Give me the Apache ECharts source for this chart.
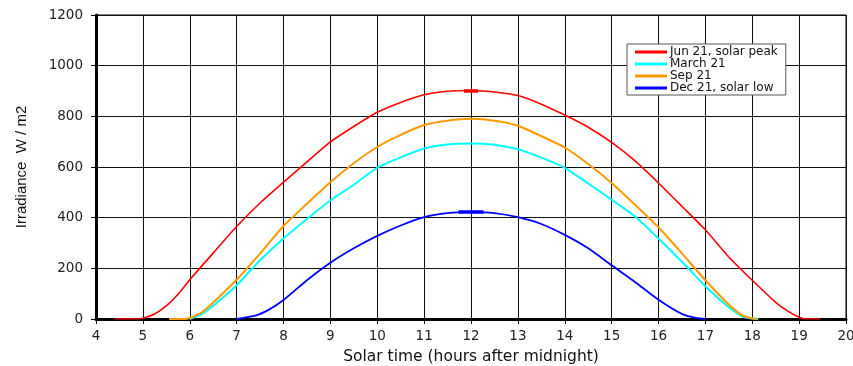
<!DOCTYPE html>
<html>
<head>
<meta charset="utf-8">
<style>
  html, body { margin: 0; padding: 0; background: #fff; }
  #chart { width: 853px; height: 366px; }
</style>
<script src="https://cdn.jsdelivr.net/npm/echarts@6/dist/echarts.min.js"></script>
</head>
<body>
<div id="chart"></div>
<script>
// Clear-sky irradiance over the day for four dates (hours after midnight, W/m2)
const seriesNames = ['Jun 21, solar peak', 'March 21', 'Sep 21', 'Dec 21, solar low'];

const junHours = [4.4, 4.9, 5, 5.25, 5.5, 5.75, 6, 6.5, 7, 7.5, 8, 8.5, 9, 9.5, 10, 10.5, 11, 11.5, 12, 12.5, 13, 13.5, 14, 14.5, 15, 15.5, 16, 16.5, 17, 17.5, 18, 18.5, 18.75, 19, 19.15, 19.45];
const junIrr   = [0, 0, 3, 20, 52, 98, 155, 260, 365, 458, 540, 620, 699, 760, 816, 855, 885, 899, 902, 896, 882, 848, 805, 757, 697, 624, 537, 445, 352, 245, 153, 66, 32, 7, 0, 0];

const marHours = [6, 6.25, 6.5, 7, 7.5, 8, 8.5, 9, 9.5, 10, 10.5, 11, 11.5, 12, 12.5, 13, 13.5, 14, 14.5, 15, 15.5, 16, 16.5, 17, 17.5, 17.8, 18.13];
const marIrr   = [0, 18, 52, 133, 232, 318, 395, 468, 530, 597, 638, 673, 689, 693, 688, 670, 637, 597, 535, 471, 405, 318, 226, 129, 46, 9, 0];

const sepHours = [5.56, 5.9, 6, 6.25, 6.5, 7, 7.5, 8, 8.5, 9, 9.5, 10, 10.5, 11, 11.5, 12, 12.5, 13, 13.5, 14, 14.5, 15, 15.5, 16, 16.5, 17, 17.5, 17.8, 18, 18.1];
const sepIrr   = [0, 0, 4, 25, 65, 155, 258, 367, 455, 540, 615, 679, 727, 766, 783, 790, 783, 763, 722, 677, 612, 537, 451, 362, 259, 153, 57, 13, 2, 0];

const decHours = [7, 7.4, 7.7, 8, 8.5, 9, 9.5, 10, 10.5, 11, 11.5, 12, 12.5, 13, 13.5, 14, 14.5, 15, 15.5, 16, 16.5, 16.8, 17];
const decIrr   = [0, 13, 38, 75, 153, 222, 279, 328, 369, 402, 418, 422, 418, 402, 375, 332, 279, 212, 146, 76, 20, 4, 0];

const xTicks = { min: 4, max: 20, step: 1 };
const yTicks = { min: 0, max: 1200, step: 200 };

const colors = ['#ff0000', '#00ffff', '#ff9900', '#0000ff'];
const widths = [1.6, 2, 2, 1.8];
// half-length (hours) of the short bold bar drawn at each noon peak; 0 = none
const peakBar = [0.15, 0, 0, 0.27];

const hourSets = [junHours, marHours, sepHours, decHours];
const irrSets  = [junIrr, marIrr, sepIrr, decIrr];

const chart = echarts.init(document.getElementById('chart'), null, { renderer: 'canvas' });

const series = seriesNames.map((name, i) => {
  const hrs = hourSets[i], vals = irrSets[i];
  const s = {
    name,
    type: 'line',
    data: hrs.map((h, k) => [h, vals[k]]),
    showSymbol: false,
    symbol: 'none',
    smooth: 0.2,
    lineStyle: { color: colors[i], width: widths[i] },
    itemStyle: { color: colors[i] },
    emphasis: { disabled: true },
    z: 3 + i
  };
  if (peakBar[i] > 0) {
    let k = 0;
    vals.forEach((v, j) => { if (v > vals[k]) k = j; });
    s.markLine = {
      silent: true,
      symbol: 'none',
      label: { show: false },
      lineStyle: { color: colors[i], width: 3.5, type: 'solid' },
      data: [[
        { coord: [hrs[k] - peakBar[i], vals[k]] },
        { coord: [hrs[k] + peakBar[i], vals[k]] }
      ]]
    };
  }
  return s;
});

chart.setOption({
  animation: false,
  backgroundColor: '#ffffff',
  grid: {
    left: 96, right: 7, top: 15, bottom: 47,
    outerBoundsMode: 'none',
    containLabel: false,
    show: true, borderColor: '#000', borderWidth: 1, backgroundColor: '#fff'
  },
  legend: {
    orient: 'vertical',
    left: 627, top: 44,
    padding: [2, 8, 1, 8],
    itemGap: 0,
    itemWidth: 32,
    itemHeight: 3,
    icon: 'rect',
    backgroundColor: '#fff',
    borderColor: '#555',
    borderWidth: 1,
    borderRadius: 0,
    textStyle: { fontFamily: 'DejaVu Sans', fontSize: 12, color: '#111', lineHeight: 10, padding: [0, 0, 0, -2] },
    data: seriesNames
  },
  xAxis: {
    type: 'value',
    min: xTicks.min, max: xTicks.max, interval: xTicks.step,
    name: 'Solar time (hours after midnight)',
    nameLocation: 'middle',
    nameGap: 30,
    nameTextStyle: { fontFamily: 'DejaVu Sans', fontSize: 15.5, color: '#111' },
    axisLine: { onZero: false, lineStyle: { color: '#000', width: 3 } },
    axisTick: { show: true, length: 5, lineStyle: { color: '#000', width: 1 } },
    axisLabel: { margin: 10, fontFamily: 'DejaVu Sans', fontSize: 13.5, color: '#222', formatter: v => String(v) },
    splitLine: { show: true, lineStyle: { color: '#111', width: 1 } }
  },
  yAxis: {
    type: 'value',
    min: yTicks.min, max: yTicks.max, interval: yTicks.step,
    name: 'Irradiance  W / m2',
    nameLocation: 'middle',
    nameRotate: 90,
    nameGap: 67,
    nameTextStyle: { fontFamily: 'Liberation Sans', fontSize: 15, color: '#111' },
    axisLine: { show: true, lineStyle: { color: '#000', width: 3 } },
    axisTick: { show: true, length: 5, lineStyle: { color: '#000', width: 1 } },
    axisLabel: { margin: 13, fontFamily: 'DejaVu Sans', fontSize: 13.5, color: '#222', formatter: v => String(v) },
    splitLine: { show: true, lineStyle: { color: '#111', width: 1 } }
  },
  series
});
</script>
</body>
</html>
